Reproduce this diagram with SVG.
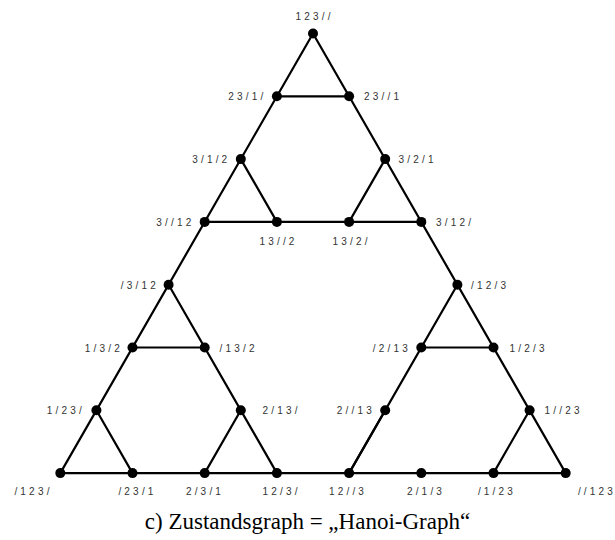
<svg xmlns="http://www.w3.org/2000/svg" width="615" height="540" viewBox="0 0 615 540">
<style>
.e{stroke:#000;stroke-width:2.2;fill:none;stroke-linecap:round}
.n{fill:#000}
.l{font-family:"Liberation Sans",Arial,sans-serif;font-size:10px;letter-spacing:3.2px;fill:#333}
.m{text-anchor:middle}
.r{text-anchor:end}
.cap{font-family:"Liberation Serif","Times New Roman",serif;font-size:23px;fill:#000;text-anchor:middle}
</style>
<rect width="615" height="540" fill="#fff"/>
<g id="connectors">
<line class="e" x1="313" y1="33.5" x2="60.3" y2="473.1"/>
<line class="e" x1="313" y1="33.5" x2="565.7" y2="473.1"/>
<line class="e" x1="60.3" y1="473.1" x2="565.7" y2="473.1"/>
<line class="e" x1="276.9" y1="96.3" x2="349.1" y2="96.3"/>
<line class="e" x1="204.7" y1="221.9" x2="421.3" y2="221.9"/>
<line class="e" x1="240.8" y1="159.1" x2="276.9" y2="221.9"/>
<line class="e" x1="385.2" y1="159.1" x2="349.1" y2="221.9"/>
<line class="e" x1="168.6" y1="284.7" x2="276.9" y2="473.1"/>
<line class="e" x1="457.4" y1="284.7" x2="349.1" y2="473.1"/>
<line class="e" x1="132.5" y1="347.5" x2="204.7" y2="347.5"/>
<line class="e" x1="421.3" y1="347.5" x2="493.5" y2="347.5"/>
<line class="e" x1="96.4" y1="410.3" x2="132.5" y2="473.1"/>
<line class="e" x1="240.8" y1="410.3" x2="204.7" y2="473.1"/>
<line class="e" x1="385.2" y1="410.3" x2="349.1" y2="473.1"/>
<line class="e" x1="529.6" y1="410.3" x2="493.5" y2="473.1"/>
</g>
<g id="n123__"><circle class="n" cx="313" cy="33.5" r="5"/><text class="l m" x="314.6" y="20">123//</text></g>
<g id="n23_1_"><circle class="n" cx="276.9" cy="96.3" r="5"/><text class="l r" x="266.5" y="100.3">23/1/</text></g>
<g id="n23__1"><circle class="n" cx="349.1" cy="96.3" r="5"/><text class="l" x="364" y="100.3">23//1</text></g>
<g id="n3_1_2"><circle class="n" cx="240.8" cy="159.1" r="5"/><text class="l r" x="230.4" y="163.1">3/1/2</text></g>
<g id="n3_2_1"><circle class="n" cx="385.2" cy="159.1" r="5"/><text class="l" x="398.5" y="163.1">3/2/1</text></g>
<g id="n3__12"><circle class="n" cx="204.7" cy="221.9" r="5"/><text class="l r" x="194.5" y="225.9">3//12</text></g>
<g id="n13__2"><circle class="n" cx="276.9" cy="221.9" r="5"/><text class="l m" x="278.5" y="245">13//2</text></g>
<g id="n13_2_"><circle class="n" cx="349.1" cy="221.9" r="5"/><text class="l m" x="351.5" y="245">13/2/</text></g>
<g id="n3_12_"><circle class="n" cx="421.3" cy="221.9" r="5"/><text class="l" x="436" y="225.9">3/12/</text></g>
<g id="n_3_12"><circle class="n" cx="168.6" cy="284.7" r="5"/><text class="l r" x="159" y="288.7">/3/12</text></g>
<g id="n_12_3"><circle class="n" cx="457.4" cy="284.7" r="5"/><text class="l" x="471" y="288.7">/12/3</text></g>
<g id="n1_3_2"><circle class="n" cx="132.5" cy="347.5" r="5"/><text class="l r" x="123" y="351.5">1/3/2</text></g>
<g id="n_13_2"><circle class="n" cx="204.7" cy="347.5" r="5"/><text class="l" x="219.5" y="351.5">/13/2</text></g>
<g id="n_2_13"><circle class="n" cx="421.3" cy="347.5" r="5"/><text class="l r" x="411" y="351.5">/2/13</text></g>
<g id="n1_2_3"><circle class="n" cx="493.5" cy="347.5" r="5"/><text class="l" x="509.5" y="351.5">1/2/3</text></g>
<g id="n1_23_"><circle class="n" cx="96.4" cy="410.3" r="5"/><text class="l r" x="85" y="414.3">1/23/</text></g>
<g id="n2_13_"><circle class="n" cx="240.8" cy="410.3" r="5"/><text class="l" x="262.5" y="414.3">2/13/</text></g>
<g id="n2__13"><circle class="n" cx="385.2" cy="410.3" r="5"/><text class="l r" x="375" y="414.3">2//13</text></g>
<g id="n1__23"><circle class="n" cx="529.6" cy="410.3" r="5"/><text class="l" x="544.5" y="414.3">1//23</text></g>
<g id="n_123_"><circle class="n" cx="60.3" cy="473.1" r="5"/><text class="l m" x="33.5" y="495">/123/</text></g>
<g id="n_23_1"><circle class="n" cx="132.5" cy="473.1" r="5"/><text class="l m" x="137.5" y="495">/23/1</text></g>
<g id="n2_3_1"><circle class="n" cx="204.7" cy="473.1" r="5"/><text class="l m" x="205" y="495">2/3/1</text></g>
<g id="n12_3_"><circle class="n" cx="276.9" cy="473.1" r="5"/><text class="l m" x="281.5" y="495">12/3/</text></g>
<g id="n12__3"><circle class="n" cx="349.1" cy="473.1" r="5"/><text class="l m" x="348" y="495">12//3</text></g>
<g id="n2_1_3"><circle class="n" cx="421.3" cy="473.1" r="5"/><text class="l m" x="426" y="495">2/1/3</text></g>
<g id="n_1_23"><circle class="n" cx="493.5" cy="473.1" r="5"/><text class="l m" x="497" y="495">/1/23</text></g>
<g id="n__123"><circle class="n" cx="565.7" cy="473.1" r="5"/><text class="l m" x="597" y="495">//123</text></g>
<text class="cap" x="307.5" y="529">c) Zustandsgraph = „Hanoi-Graph“</text>
</svg>
